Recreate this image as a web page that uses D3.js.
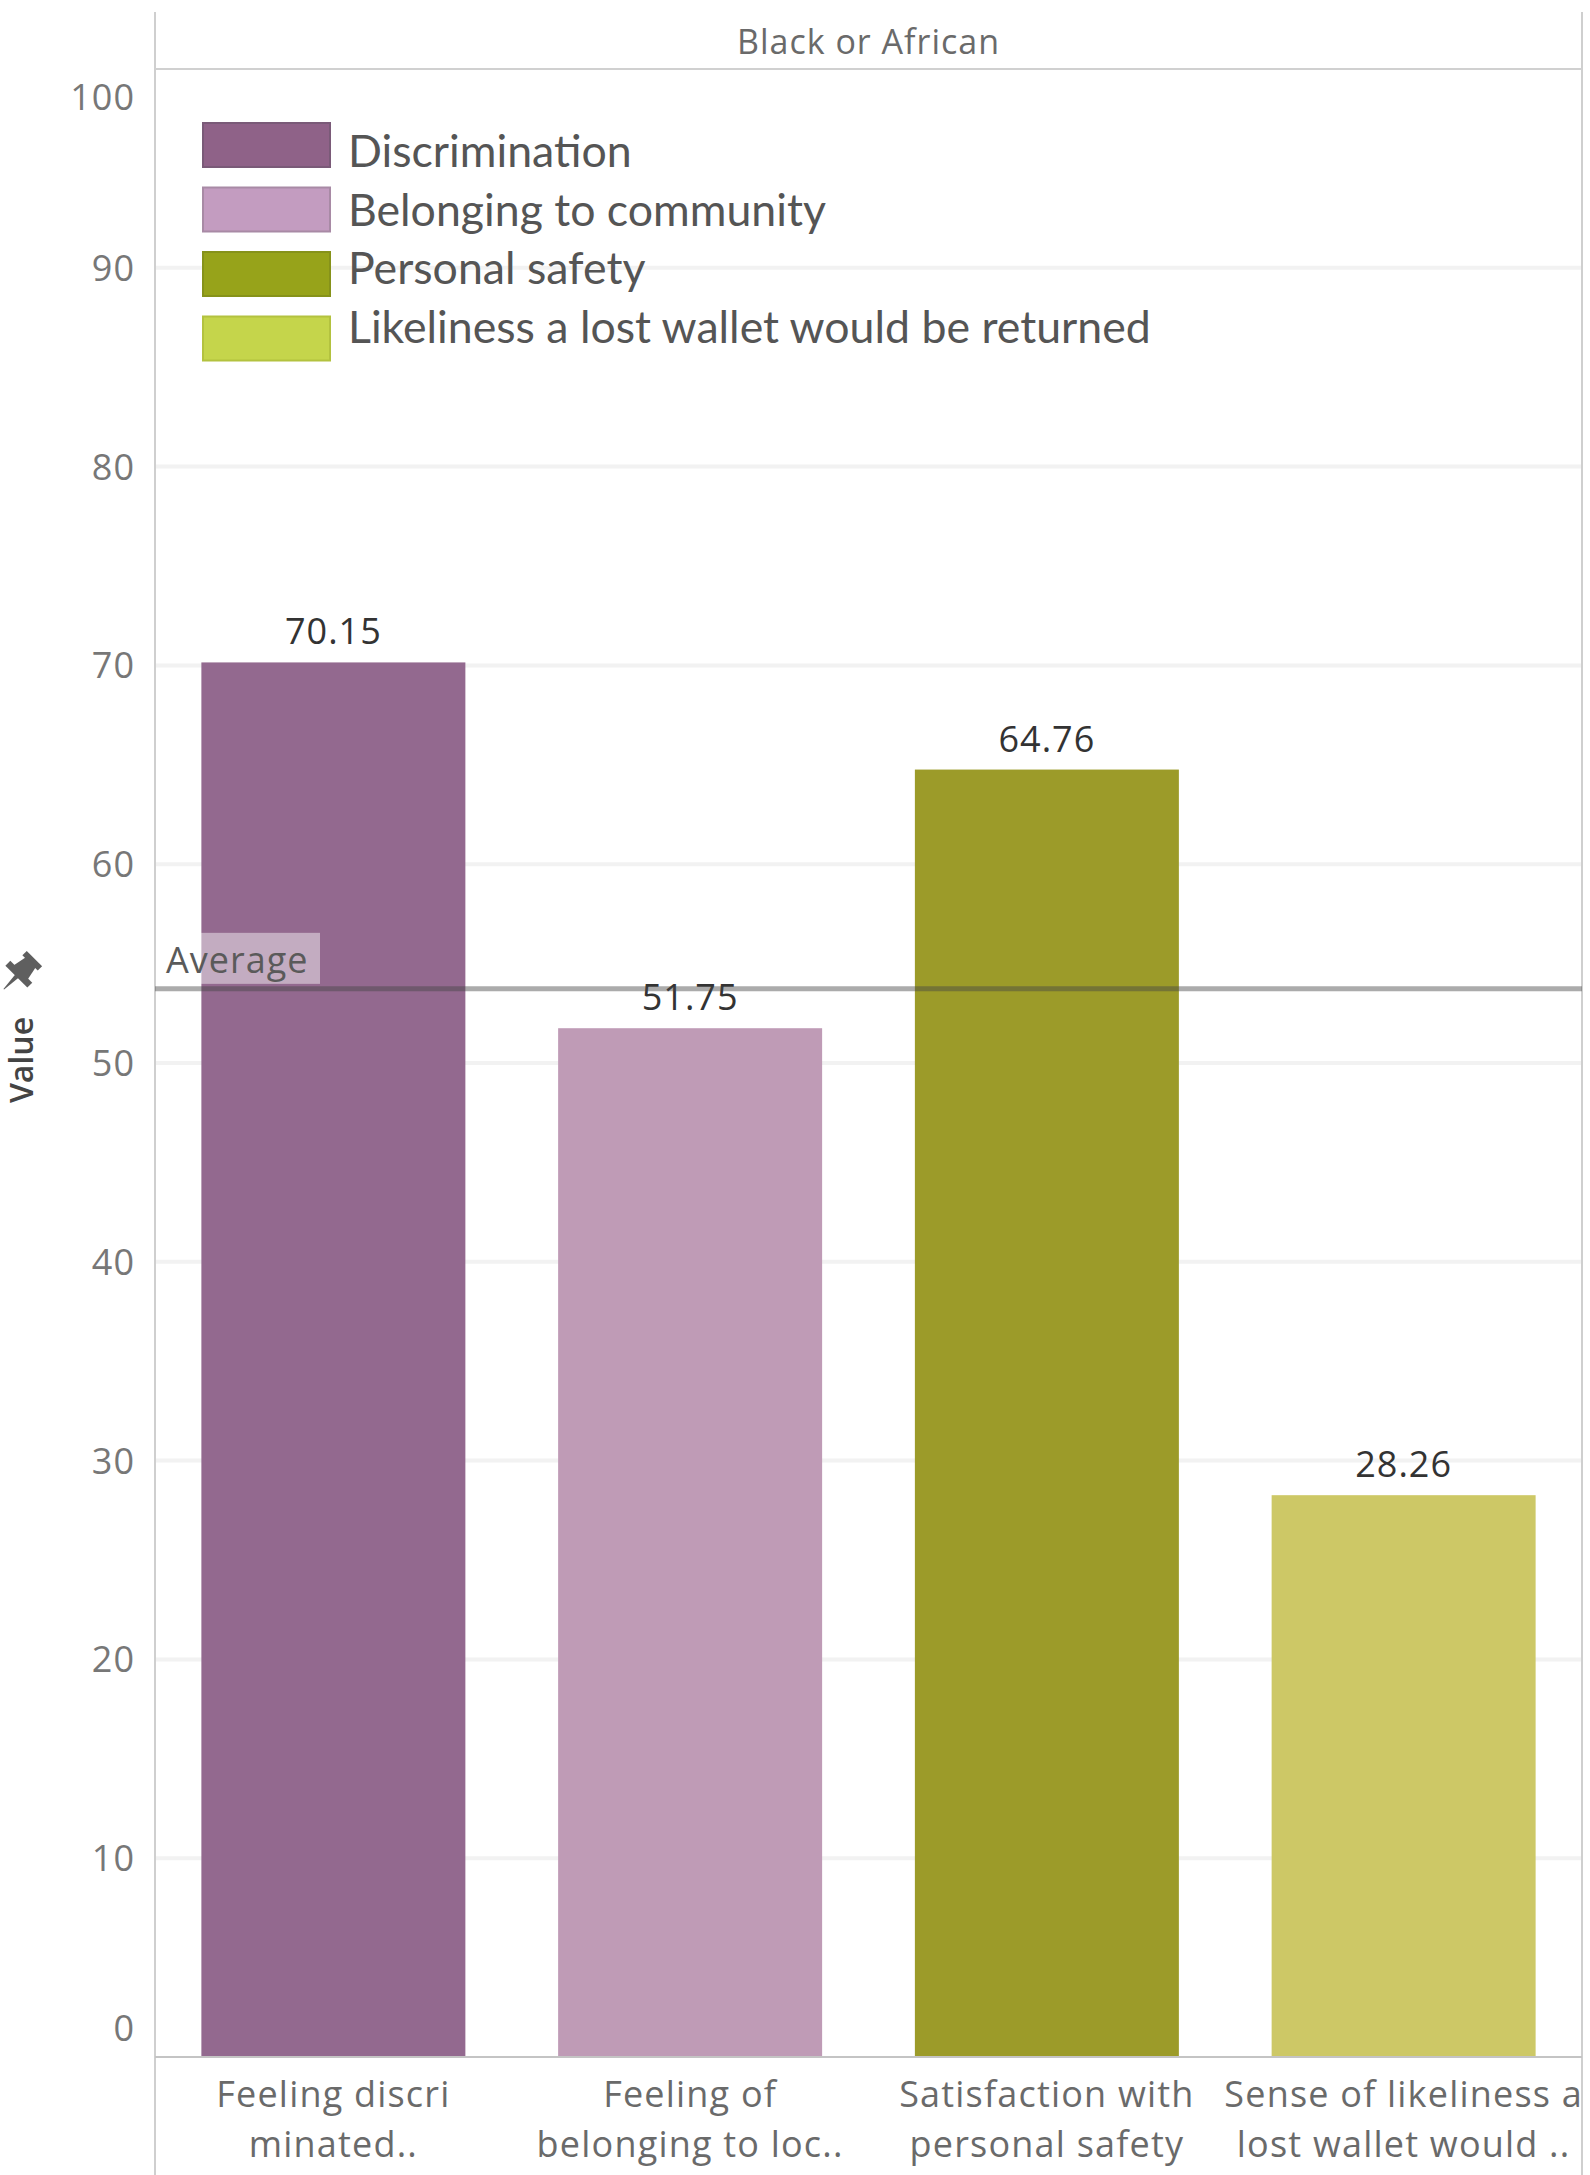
<!DOCTYPE html>
<html><head><meta charset="utf-8">
<script src="https://cdn.jsdelivr.net/npm/d3@7"></script>
<style>html,body{margin:0;padding:0;background:#fff;} svg{display:block;}</style>
</head><body><svg id="chart" width="1590" height="2175"></svg>
<script>
// ---------- data ----------
const panelTitle = "Black or African";
const categories = [
  "Feeling discriminated",
  "Feeling of belonging to local community",
  "Satisfaction with personal safety",
  "Sense of likeliness a lost wallet would be returned"
];
const categoryLabelLines = [
  ["Feeling discri", "minated.."],
  ["Feeling of", "belonging to loc.."],
  ["Satisfaction with", "personal safety"],
  ["Sense of likeliness a", "lost wallet would .."]
];
const values = [70.15, 51.75, 64.76, 28.26];
const legendLabels = ["Discrimination", "Belonging to community", "Personal safety", "Likeliness a lost wallet would be returned"];
const barColors = ["#93698f", "#bf9bb6", "#9c9b29", "#cdc866"];
const legendColors = ["#8f6288", "#c39cc0", "#97a31a", "#c5d54b"];
const legendStrokes = ["#7a5a78", "#a88aa5", "#86921a", "#b3c23f"];
const yTicks = [0, 10, 20, 30, 40, 50, 60, 70, 80, 90, 100];
const axisTitle = "Value";
const refLineLabel = "Average";

// ---------- layout ----------
const W = 1590, H = 2175;
const plotL = 155, plotR = 1582, plotTop = 69, plotBottom = 2057;
const svg = d3.select("#chart");
const tickFont = "'Open Sans', sans-serif";

const x = d3.scaleBand().domain(categories).range([plotL, plotR]).paddingInner(0.26).paddingOuter(0.13);
const y = d3.scaleLinear().domain([0, 100]).range([plotBottom, plotTop]);

// gridlines
svg.append("g").selectAll("line").data(yTicks.filter(d => d > 0 && d < 100)).join("line")
  .attr("x1", plotL).attr("x2", plotR)
  .attr("y1", d => y(d)).attr("y2", d => y(d))
  .attr("stroke", "#f2f2f2").attr("stroke-width", 4);

// frame lines
svg.append("line").attr("x1", plotL).attr("x2", plotL).attr("y1", 12).attr("y2", H).attr("stroke", "#cfcfcf").attr("stroke-width", 2);
svg.append("line").attr("x1", plotR).attr("x2", plotR).attr("y1", 12).attr("y2", H).attr("stroke", "#cfcfcf").attr("stroke-width", 2);
svg.append("line").attr("x1", plotL).attr("x2", plotR).attr("y1", plotTop).attr("y2", plotTop).attr("stroke", "#d0d0d0").attr("stroke-width", 2);

// header
svg.append("text").attr("x", (plotL + plotR) / 2).attr("y", 54)
  .attr("text-anchor", "middle").attr("font-family", tickFont).attr("font-size", 34)
  .attr("letter-spacing", 1).attr("fill", "#6a6a6a").text(panelTitle);

// bars
svg.append("g").selectAll("rect").data(values).join("rect")
  .attr("x", (d, i) => x(categories[i]))
  .attr("width", x.bandwidth())
  .attr("y", d => y(d))
  .attr("height", d => y(0) - y(d))
  .attr("fill", (d, i) => barColors[i]);

// baseline
svg.append("line").attr("x1", plotL).attr("x2", plotR).attr("y1", y(0)).attr("y2", y(0)).attr("stroke", "#c4c4c4").attr("stroke-width", 2);

// value labels
svg.append("g").selectAll("text").data(values).join("text")
  .attr("x", (d, i) => x(categories[i]) + x.bandwidth() / 2)
  .attr("y", d => y(d) - 18)
  .attr("text-anchor", "middle").attr("font-family", tickFont).attr("font-size", 36)
  .attr("letter-spacing", 1).attr("fill", "#333").text(d => d.toFixed(2));

// average reference line
const avg = d3.mean(values);
svg.append("line").attr("x1", plotL).attr("x2", plotR).attr("y1", y(avg)).attr("y2", y(avg))
  .attr("stroke", "#444").attr("stroke-opacity", 0.45).attr("stroke-width", 5);
svg.append("rect").attr("x", plotL + 3).attr("y", y(avg) - 56).attr("width", 162).attr("height", 51)
  .attr("fill", "#fff").attr("fill-opacity", 0.45);
svg.append("text").attr("x", plotL + 11).attr("y", y(avg) - 16)
  .attr("font-family", tickFont).attr("font-size", 36).attr("letter-spacing", 1)
  .attr("fill", "#5a5a5a").text(refLineLabel);

// y axis
const yAxis = svg.append("g").attr("transform", `translate(${plotL - 20},0)`)
  .call(d3.axisLeft(y).tickValues(yTicks).tickSize(0).tickPadding(0).tickFormat(d3.format("d")));
yAxis.select(".domain").remove();
yAxis.selectAll(".tick").attr("transform", d => {
  const yy = Math.max(y(100) + 28, Math.min(y(0) - 29, y(d)));
  return `translate(0,${yy})`;
});
yAxis.selectAll("text").attr("font-family", tickFont).attr("font-size", 36)
  .attr("letter-spacing", 1).attr("fill", "#777").attr("dy", "0.36em");

// axis title + pin
svg.append("text").attr("transform", `translate(33,1060) rotate(-90)`)
  .attr("text-anchor", "middle").attr("font-family", tickFont).attr("font-weight", 600)
  .attr("font-size", 32).attr("fill", "#444").text(axisTitle);
const pin = svg.append("g").attr("transform", "translate(18,975) rotate(45) scale(1.55)").attr("fill", "#5f5f5f");
pin.append("rect").attr("x", -7).attr("y", -15).attr("width", 14).attr("height", 4);
pin.append("path").attr("d", "M-4.5,-12 L4.5,-12 L6.5,-2 L-6.5,-2 Z");
pin.append("rect").attr("x", -10).attr("y", -3).attr("width", 20).attr("height", 4.5);
pin.append("path").attr("d", "M-1.5,1 L1.5,1 L0.3,13 L-0.3,13 Z");

// x category labels
const xl = svg.append("g");
categoryLabelLines.forEach((lines, i) => {
  const cx = x(categories[i]) + x.bandwidth() / 2;
  lines.forEach((ln, j) => {
    xl.append("text").attr("x", cx).attr("y", 2107 + j * 50)
      .attr("text-anchor", "middle").attr("font-family", tickFont).attr("font-size", 36)
      .attr("letter-spacing", 1.2).attr("fill", "#6a6a6a").text(ln);
  });
});

// legend
const lg = svg.append("g");
const legX = 203, legTop = 123, legStep = 64.5, swW = 127, swH = 44;
lg.selectAll("rect").data(legendLabels).join("rect")
  .attr("x", legX).attr("y", (d, i) => legTop + i * legStep)
  .attr("width", swW).attr("height", swH)
  .attr("fill", (d, i) => legendColors[i])
  .attr("stroke", (d, i) => legendStrokes[i]).attr("stroke-width", 2);
const lt = lg.selectAll("text").data(legendLabels).join("text")
  .attr("x", 348).attr("y", (d, i) => 167 + i * 58.5)
  .attr("font-family", "Lato, sans-serif").attr("font-size", 44)
  .attr("fill", "#555").text(d => d);
// fit longest legend entry to the reference width
const longest = d3.max(lt.nodes(), n => n.getComputedTextLength());
const fs = 44 * 803 / longest;
lt.attr("font-size", fs);
</script></body></html>
